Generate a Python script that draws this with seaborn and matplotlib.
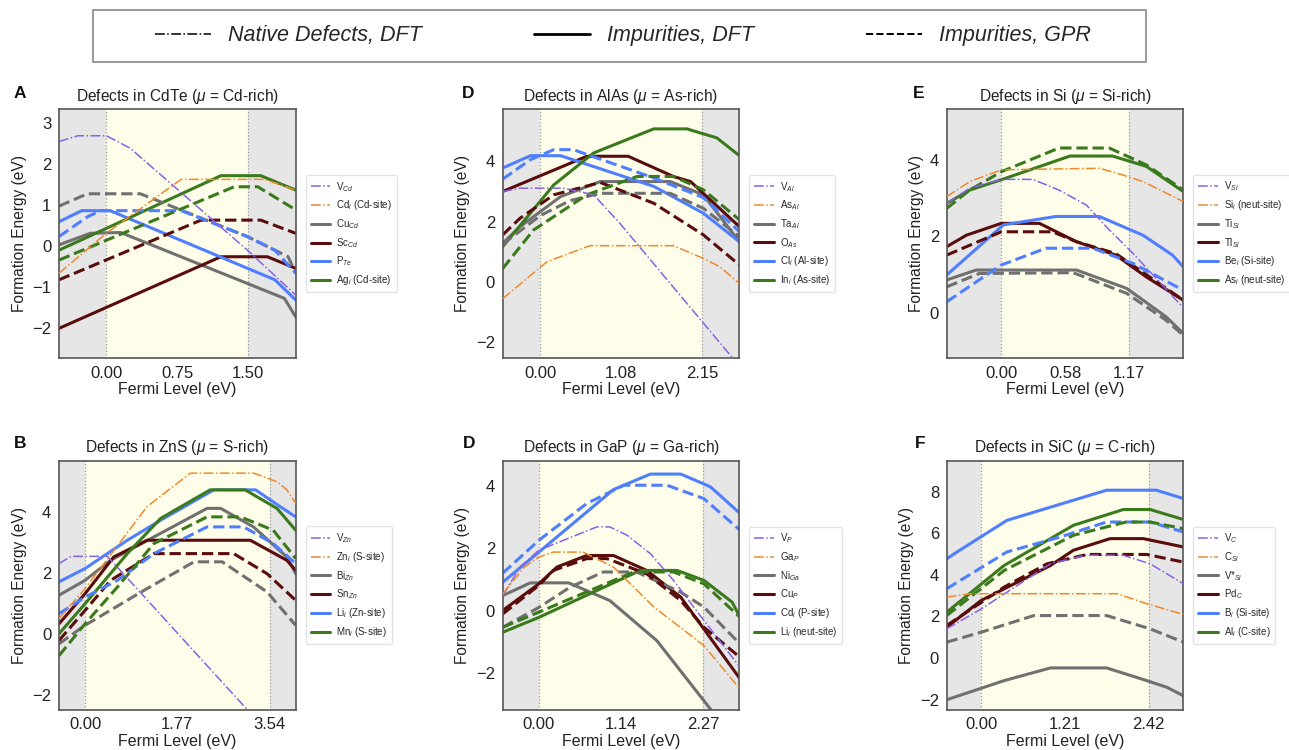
import matplotlib
matplotlib.use("Agg")
import matplotlib.pyplot as plt
from matplotlib.lines import Line2D
from matplotlib.patches import Rectangle
import seaborn as sns
import pandas as pd

# ---------------- data ----------------
# band gaps (eV) and axis settings per panel
gaps = [1.50, 2.15, 1.17, 3.54, 2.27, 2.42]
xtick_labels = [["0.00", "0.75", "1.50"], ["0.00", "1.08", "2.15"], ["0.00", "0.58", "1.17"],
                ["0.00", "1.77", "3.54"], ["0.00", "1.14", "2.27"], ["0.00", "1.21", "2.42"]]
ylims = [(-2.72, 3.33), (-2.53, 5.74), (-1.18, 5.33), (-2.5, 5.7), (-3.19, 4.82), (-2.49, 9.49)]
yticks = [[-2, -1, 0, 1, 2, 3], [-2, 0, 2, 4], [0, 2, 4], [-2, 0, 2, 4], [-2, 0, 2, 4], [-2, 0, 2, 4, 6, 8]]
titles = [r"Defects in CdTe ($\mu$ = Cd-rich)", r"Defects in AlAs ($\mu$ = As-rich)",
          r"Defects in Si ($\mu$ = Si-rich)", r"Defects in ZnS ($\mu$ = S-rich)",
          r"Defects in GaP ($\mu$ = Ga-rich)", r"Defects in SiC ($\mu$ = C-rich)"]
panel_letters = ["A", "D", "E", "B", "D", "F"]

# legend labels per panel: 2 native, 4 impurities
labels_cdte = [r"V$_{Cd}$", r"Cd$_i$ (Cd-site)", r"Cu$_{Cd}$", r"Sc$_{Cd}$", r"P$_{Te}$", r"Ag$_i$ (Cd-site)"]
labels_alas = [r"V$_{Al}$", r"As$_{Al}$", r"Ta$_{Al}$", r"O$_{As}$", r"Cl$_i$ (Al-site)", r"In$_i$ (As-site)"]
labels_si = [r"V$_{Si}$", r"Si$_i$ (neut-site)", r"Ti$_{Si}$", r"Tl$_{Si}$", r"Be$_i$ (Si-site)", r"As$_i$ (neut-site)"]
labels_zns = [r"V$_{Zn}$", r"Zn$_i$ (S-site)", r"Bi$_{Zn}$", r"Sn$_{Zn}$", r"Li$_i$ (Zn-site)", r"Mn$_i$ (S-site)"]
labels_gap = [r"V$_{P}$", r"Ga$_{P}$", r"Ni$_{Ga}$", r"Cu$_{P}$", r"Cd$_i$ (P-site)", r"Li$_i$ (neut-site)"]
labels_sic = [r"V$_{C}$", r"C$_{Si}$", r"V*$_{Si}$", r"Pd$_{C}$", r"B$_i$ (Si-site)", r"Al$_i$ (C-site)"]

# --- CdTe (Cd-rich) ---
cdte_native_1 = [(-0.5, 2.54), (-0.3, 2.68), (0.0, 2.68), (0.25, 2.38), (1.49, -0.10), (2.0, -1.19)]
cdte_native_2 = [(-0.5, -0.66), (0.0, 0.31), (0.79, 1.62), (1.67, 1.62), (2.0, 1.36)]
cdte_dft_1 = [(-0.5, 0.03), (-0.17, 0.31), (0.15, 0.33), (1.88, -1.27), (2.0, -1.72)]
cdte_dft_2 = [(-0.5, -2.0), (1.21, -0.26), (1.70, -0.26), (2.0, -0.54)]
cdte_dft_3 = [(-0.5, 0.59), (-0.26, 0.86), (0.04, 0.86), (1.78, -0.82), (2.0, -1.31)]
cdte_dft_4 = [(-0.5, -0.10), (1.21, 1.71), (1.63, 1.71), (2.0, 1.36)]
cdte_gpr_1 = [(-0.5, 0.97), (-0.2, 1.27), (0.36, 1.27), (1.49, 0.23), (1.92, -0.26), (2.0, -0.66)]
cdte_gpr_2 = [(-0.5, -0.82), (1.0, 0.63), (1.63, 0.63), (2.0, 0.31)]
cdte_gpr_3 = [(-0.5, 0.23), (-0.2, 0.71), (-0.06, 0.86), (0.79, 0.86), (1.49, 0.23), (1.78, -0.10), (2.0, -0.66)]
cdte_gpr_4 = [(-0.5, -0.34), (1.35, 1.44), (1.60, 1.44), (2.0, 0.88)]

# --- AlAs (As-rich) ---
alas_native_1 = [(-0.5, 3.0), (-0.27, 3.11), (0.31, 3.11), (0.71, 2.89), (1.06, 1.94), (2.65, -2.8)]
alas_native_2 = [(-0.5, -0.56), (0.09, 0.67), (0.66, 1.2), (1.77, 1.2), (2.17, 0.78), (2.39, 0.5), (2.65, -0.06)]
alas_dft_1 = [(-0.5, 1.28), (-0.27, 1.83), (0.27, 2.83), (0.8, 3.33), (1.73, 3.33), (2.17, 2.89), (2.65, 1.33)]
alas_dft_2 = [(-0.5, 3.0), (0.62, 4.17), (1.17, 4.17), (1.77, 3.5), (2.0, 3.33), (2.65, 1.83)]
alas_dft_3 = [(-0.5, 3.78), (-0.13, 4.19), (0.27, 4.19), (1.51, 3.17), (2.17, 2.28), (2.65, 1.33)]
alas_dft_4 = [(-0.5, 1.17), (0.18, 3.22), (0.71, 4.28), (1.51, 5.08), (1.95, 5.08), (2.35, 4.78), (2.65, 4.19)]
alas_gpr_1 = [(-0.5, 1.25), (0.0, 2.2), (0.4, 2.7), (0.8, 2.94), (1.73, 2.94), (2.17, 2.44), (2.65, 1.5)]
alas_gpr_2 = [(-0.5, 1.56), (-0.27, 2.11), (0.18, 2.89), (0.8, 3.3), (1.51, 2.61), (2.17, 1.56), (2.65, 0.56)]
alas_gpr_3 = [(-0.5, 3.41), (-0.13, 4.06), (0.18, 4.39), (0.44, 4.39), (1.51, 3.45), (2.17, 2.8), (2.65, 1.67)]
alas_gpr_4 = [(-0.5, 0.44), (-0.09, 1.72), (0.62, 2.89), (1.29, 3.5), (1.77, 3.5), (2.17, 3.06), (2.65, 2.06)]

# --- Si (Si-rich) ---
si_native_1 = [(-0.5, 2.86), (-0.29, 3.26), (0.0, 3.49), (0.29, 3.49), (0.53, 3.21), (0.78, 2.82),
               (0.99, 2.17), (1.21, 1.55), (1.67, 0.13)]
si_native_2 = [(-0.5, 3.04), (-0.29, 3.43), (0.0, 3.74), (0.9, 3.78), (1.11, 3.61), (1.3, 3.43), (1.67, 2.91)]
si_dft_1 = [(-0.5, 0.86), (-0.23, 1.12), (0.69, 1.12), (1.15, 0.64), (1.51, -0.1), (1.67, -0.54)]
si_dft_2 = [(-0.5, 1.73), (-0.32, 2.03), (0.0, 2.34), (0.35, 2.34), (0.69, 1.86), (1.05, 1.51),
            (1.33, 0.94), (1.67, 0.33)]
si_dft_3 = [(-0.5, 0.99), (0.02, 2.3), (0.5, 2.52), (0.9, 2.52), (1.3, 2.03), (1.57, 1.51), (1.67, 1.2)]
si_dft_4 = [(-0.5, 2.86), (-0.29, 3.21), (0.0, 3.48), (0.63, 4.1), (1.02, 4.1), (1.33, 3.83), (1.67, 3.17)]
si_gpr_1 = [(-0.5, 0.68), (-0.2, 1.03), (0.66, 1.05), (1.15, 0.51), (1.51, -0.19), (1.67, -0.59)]
si_gpr_2 = [(-0.5, 1.51), (0.0, 2.12), (0.47, 2.12), (0.69, 1.86), (1.05, 1.55), (1.33, 1.0), (1.67, 0.33)]
si_gpr_3 = [(-0.5, 0.29), (0.0, 1.25), (0.41, 1.69), (0.84, 1.69), (1.21, 1.29), (1.67, 0.59)]
si_gpr_4 = [(-0.5, 2.73), (-0.29, 3.21), (0.0, 3.69), (0.53, 4.31), (0.99, 4.31), (1.33, 3.87), (1.67, 3.21)]

# --- ZnS (S-rich) ---
zns_native_1 = [(-0.5, 2.31), (-0.27, 2.55), (0.43, 2.55), (4.04, -4.25)]
zns_native_2 = [(-0.5, 0.5), (0.0, 1.49), (1.19, 4.19), (2.02, 5.29), (3.23, 5.29), (3.68, 5.01),
                (3.87, 4.74), (4.04, 4.3)]
zns_dft_1 = [(-0.5, 1.27), (0.0, 1.76), (0.49, 2.42), (1.32, 3.19), (2.34, 4.13), (2.6, 4.13),
             (3.23, 3.52), (3.87, 2.53), (4.04, 1.98)]
zns_dft_2 = [(-0.5, 0.33), (0.0, 1.32), (0.55, 2.53), (1.19, 3.08), (3.17, 3.08), (3.87, 2.42), (4.04, 2.09)]
zns_dft_3 = [(-0.5, 1.71), (0.0, 2.15), (0.81, 3.08), (1.45, 3.74), (2.47, 4.74), (3.27, 4.74),
             (3.74, 4.19), (4.04, 3.85)]
zns_dft_4 = [(-0.5, 0.0), (0.0, 0.99), (0.81, 2.64), (1.45, 3.8), (2.4, 4.74), (3.07, 4.74),
             (3.68, 4.13), (4.04, 3.41)]
zns_gpr_1 = [(-0.5, -0.33), (0.0, 0.28), (1.13, 1.43), (2.09, 2.37), (2.63, 2.37), (3.49, 1.38), (4.04, 0.28)]
zns_gpr_2 = [(-0.5, -0.22), (0.0, 0.77), (0.49, 1.76), (1.32, 2.64), (2.85, 2.64), (3.49, 1.98), (4.04, 1.1)]
zns_gpr_3 = [(-0.5, 0.66), (0.0, 1.21), (0.62, 1.76), (1.32, 2.64), (2.34, 3.52), (3.04, 3.52),
             (3.61, 2.97), (4.04, 2.31)]
zns_gpr_4 = [(-0.5, -0.72), (0.0, 0.33), (0.62, 1.54), (1.32, 2.97), (2.34, 3.85), (2.98, 3.85),
             (3.61, 3.41), (4.04, 2.48)]

# --- GaP (Ga-rich) ---
gap_native_1 = [(-0.5, 0.48), (-0.26, 1.4), (0.0, 1.94), (0.34, 2.26), (0.8, 2.69), (0.98, 2.69),
                (1.22, 2.42), (1.54, 1.83), (1.86, 0.97), (2.28, -0.32), (2.78, -1.83)]
gap_native_2 = [(-0.5, 0.54), (-0.2, 1.4), (0.0, 1.72), (0.2, 1.88), (0.61, 1.88), (1.03, 1.4),
                (1.59, 0.11), (2.28, -1.13), (2.78, -2.53)]
gap_dft_1 = [(-0.5, 0.48), (-0.12, 0.89), (0.41, 0.89), (0.98, 0.32), (1.63, -0.97), (2.37, -3.17), (2.78, -4.5)]
gap_dft_2 = [(-0.5, 0.0), (0.0, 0.86), (0.25, 1.4), (0.66, 1.77), (1.03, 1.77), (1.49, 1.29),
             (1.96, 0.43), (2.78, -2.2)]
gap_dft_3 = [(-0.5, 0.91), (0.0, 1.88), (1.03, 3.89), (1.54, 4.39), (1.96, 4.39), (2.37, 3.98), (2.78, 3.12)]
gap_dft_4 = [(-0.5, -0.7), (0.0, -0.22), (1.4, 1.29), (1.91, 1.29), (2.28, 0.97), (2.67, 0.27), (2.78, -0.22)]
gap_gpr_1 = [(-0.5, -0.54), (0.0, 0.1), (0.43, 0.75), (0.89, 1.24), (1.35, 1.24), (1.96, 0.59),
             (2.28, 0.11), (2.78, -1.08)]
gap_gpr_2 = [(-0.5, -0.11), (0.0, 0.81), (0.2, 1.29), (0.66, 1.67), (0.94, 1.67), (1.49, 1.18),
             (1.96, 0.32), (2.28, -0.54), (2.78, -1.51)]
gap_gpr_3 = [(-0.5, 1.2), (0.0, 2.26), (0.66, 3.44), (1.17, 4.03), (1.77, 4.03), (2.28, 3.6), (2.78, 2.58)]
gap_gpr_4 = [(-0.5, -0.54), (0.0, -0.05), (1.31, 1.24), (1.86, 1.24), (2.28, 0.86), (2.78, -0.22)]

# --- SiC (C-rich) ---
sic_native_1 = [(-0.5, 1.4), (0.0, 2.36), (1.0, 4.53), (1.5, 4.94), (2.05, 4.94), (2.44, 4.53), (2.92, 3.57)]
sic_native_2 = [(-0.5, 2.93), (-0.15, 3.09), (1.96, 3.09), (2.4, 2.6), (2.92, 2.09)]
sic_dft_1 = [(-0.5, -2.01), (0.33, -1.09), (1.0, -0.48), (1.81, -0.48), (2.39, -1.09), (2.68, -1.41), (2.92, -1.82)]
sic_dft_2 = [(-0.5, 1.48), (0.0, 2.77), (1.0, 4.45), (1.33, 5.18), (1.86, 5.74), (2.34, 5.74), (2.92, 5.34)]
sic_dft_3 = [(-0.5, 4.77), (-0.35, 5.1), (0.37, 6.62), (1.81, 8.07), (2.53, 8.07), (2.92, 7.67)]
sic_dft_4 = [(-0.5, 2.2), (0.33, 4.45), (1.33, 6.38), (2.05, 7.14), (2.44, 7.14), (2.92, 6.66)]
sic_gpr_1 = [(-0.5, 0.76), (0.0, 1.24), (0.76, 2.04), (1.81, 2.04), (2.44, 1.4), (2.92, 0.76)]
sic_gpr_2 = [(-0.5, 1.56), (0.33, 3.41), (0.95, 4.53), (1.53, 4.98), (2.39, 4.98), (2.92, 4.61)]
sic_gpr_3 = [(-0.5, 3.33), (0.37, 5.1), (1.14, 5.82), (1.81, 6.54), (2.44, 6.54), (2.92, 6.06)]
sic_gpr_4 = [(-0.5, 2.04), (0.33, 4.21), (1.33, 5.9), (2.09, 6.54), (2.44, 6.54), (2.92, 6.22)]

panels = [
    (labels_cdte, [cdte_native_1, cdte_native_2], [cdte_dft_1, cdte_dft_2, cdte_dft_3, cdte_dft_4],
     [cdte_gpr_1, cdte_gpr_2, cdte_gpr_3, cdte_gpr_4]),
    (labels_alas, [alas_native_1, alas_native_2], [alas_dft_1, alas_dft_2, alas_dft_3, alas_dft_4],
     [alas_gpr_1, alas_gpr_2, alas_gpr_3, alas_gpr_4]),
    (labels_si, [si_native_1, si_native_2], [si_dft_1, si_dft_2, si_dft_3, si_dft_4],
     [si_gpr_1, si_gpr_2, si_gpr_3, si_gpr_4]),
    (labels_zns, [zns_native_1, zns_native_2], [zns_dft_1, zns_dft_2, zns_dft_3, zns_dft_4],
     [zns_gpr_1, zns_gpr_2, zns_gpr_3, zns_gpr_4]),
    (labels_gap, [gap_native_1, gap_native_2], [gap_dft_1, gap_dft_2, gap_dft_3, gap_dft_4],
     [gap_gpr_1, gap_gpr_2, gap_gpr_3, gap_gpr_4]),
    (labels_sic, [sic_native_1, sic_native_2], [sic_dft_1, sic_dft_2, sic_dft_3, sic_dft_4],
     [sic_gpr_1, sic_gpr_2, sic_gpr_3, sic_gpr_4]),
]

# ---------------- style ----------------
native_colors = ["#8862e6", "#ef8a2c"]
imp_colors = ["#707070", "#5a0c0c", "#4f7fff", "#3a7a1c"]

sns.set_style("white")
FONT = ["Liberation Sans", "DejaVu Sans"]
plt.rcParams["font.family"] = FONT
plt.rcParams["mathtext.fontset"] = "custom"
plt.rcParams["mathtext.rm"] = "Liberation Sans"
plt.rcParams["mathtext.it"] = "Liberation Sans:italic"
plt.rcParams["mathtext.bf"] = "Liberation Sans:bold"

fig = plt.figure(figsize=(12.89, 7.5), dpi=100)
W, H = 1289.0, 750.0
col_left = [59, 502.7, 946.7]
ax_w = 236.7
row_top = [109, 460.7]
ax_h = 249

letter_pos = [(14, 93), (462, 93), (913, 93), (14, 444), (463, 444), (915, 444)]
TXT = "#222222"

for i, (labels, natives, dfts, gprs) in enumerate(panels):
    r, c = divmod(i, 3)
    ax = fig.add_axes([col_left[c] / W, 1 - (row_top[r] + ax_h) / H, ax_w / W, ax_h / H])
    g = gaps[i]
    x0, x1 = -0.5, g + 0.5
    ax.axvspan(x0, 0, color="#e6e6e6", lw=0, zorder=0)
    ax.axvspan(0, g, color="#fdfde9", lw=0, zorder=0)
    ax.axvspan(g, x1, color="#e6e6e6", lw=0, zorder=0)
    ax.axvline(0, color="#999999", ls=":", lw=0.9, zorder=1)
    ax.axvline(g, color="#999999", ls=":", lw=0.9, zorder=1)

    for k, pts in enumerate(natives):
        df = pd.DataFrame(pts, columns=["E_F", "E_form"])
        sns.lineplot(data=df, x="E_F", y="E_form", ax=ax, sort=False, estimator=None,
                     color=native_colors[k], lw=1.1, linestyle="-.", label=labels[k], zorder=3)
    for k, pts in enumerate(dfts):
        df = pd.DataFrame(pts, columns=["E_F", "E_form"])
        sns.lineplot(data=df, x="E_F", y="E_form", ax=ax, sort=False, estimator=None,
                     color=imp_colors[k], lw=2.2, linestyle="-", label=labels[k + 2], zorder=2)
    for k, pts in enumerate(gprs):
        df = pd.DataFrame(pts, columns=["E_F", "E_form"])
        sns.lineplot(data=df, x="E_F", y="E_form", ax=ax, sort=False, estimator=None,
                     color=imp_colors[k], lw=2.2, linestyle="--", zorder=2)

    ax.set_xlim(x0, x1)
    ax.set_ylim(*ylims[i])
    ax.set_xticks([0, g / 2, g])
    ax.set_xticklabels(xtick_labels[i])
    ax.set_yticks(yticks[i])
    ax.set_yticklabels([("\u2212%d" % abs(v)) if v < 0 else "%d" % v for v in yticks[i]])
    ax.tick_params(labelsize=12, pad=2, colors=TXT)
    ax.set_xlabel("Fermi Level (eV)", fontsize=11.5, labelpad=1, color=TXT)
    ax.set_ylabel("Formation Energy (eV)", fontsize=11.2, labelpad=4, color=TXT)
    ax.set_title(titles[i], fontsize=11.2, pad=6, color=TXT)
    for s in ax.spines.values():
        s.set_color("#555555")
        s.set_linewidth(1.2)
    leg = ax.legend(loc="center left", bbox_to_anchor=(1.03, 0.5), fontsize=7.0,
                    handlelength=2.0, handletextpad=0.6, labelspacing=0.5, borderpad=0.5,
                    borderaxespad=0.3, frameon=True)
    leg.get_frame().set_edgecolor("#dddddd")
    lx, ly = letter_pos[i]
    fig.text(lx / W, 1 - ly / H, panel_letters[i], fontsize=12.5, fontweight="bold",
             va="center", ha="left", color="#111111")

# global legend (frame drawn as a separate rectangle)
fig.patches.append(Rectangle((93 / W, 1 - 62 / H), 1053 / W, 52 / H, transform=fig.transFigure,
                             facecolor="white", edgecolor="#888888", lw=1.2, zorder=0))
top_handles = [Line2D([], [], color="black", lw=1.1, ls="-."),
               Line2D([], [], color="black", lw=2.0, ls="-"),
               Line2D([], [], color="black", lw=1.4, ls="--")]
top_labels = ["Native Defects, DFT", "Impurities, DFT", "Impurities, GPR"]
fleg = fig.legend(top_handles, top_labels, loc="center", ncol=3,
                  bbox_to_anchor=(623 / W, 1 - 36 / H),
                  prop={"style": "italic", "size": 15.5}, handlelength=2.6, handletextpad=0.8,
                  columnspacing=5.2, frameon=False)

fig.savefig("out.png", dpi=100)
